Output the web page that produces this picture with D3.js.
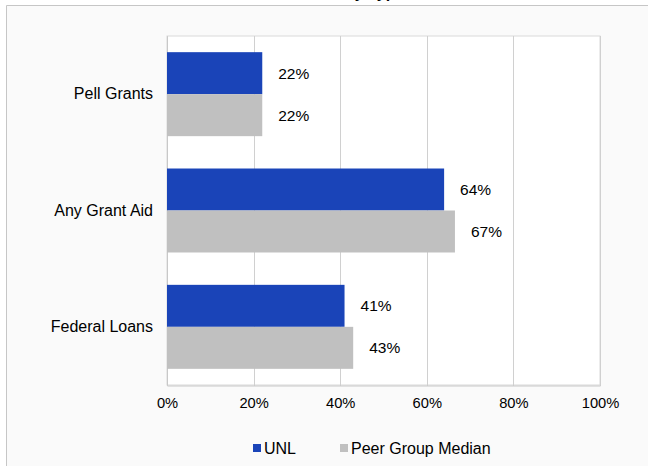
<!DOCTYPE html>
<html><head><meta charset="utf-8">
<script src="https://cdn.jsdelivr.net/npm/d3@7"></script>
<style>body{margin:0;background:#fff}svg{display:block}text{font-family:"Liberation Sans",Arial,sans-serif}</style>
</head><body><svg id="c" width="648" height="466"></svg>
<script>
const title = "Financial Aid by Type";
const categories = ["Pell Grants", "Any Grant Aid", "Federal Loans"];
const seriesNames = ["UNL", "Peer Group Median"];
const unlValues = [22, 64, 41];
const peerValues = [22, 66.5, 43];
const unlLabels = ["22%", "64%", "41%"];
const peerLabels = ["22%", "67%", "43%"];
const xTicks = [0, 20, 40, 60, 80, 100];
const colors = ["#1a44b8", "#c0c0c0"];

const FONT = '"Liberation Sans",Arial,sans-serif';
const svg = d3.select("#c");
const W = 648, H = 466;
const m = {left: 167, right: 600, top: 36, bottom: 385};

svg.append("rect").attr("x", 6).attr("y", 5).attr("width", W).attr("height", H).attr("fill", "#fafafa");
svg.append("path").attr("d", `M6.5,${H} V5.5 H${W}`).attr("fill", "none").attr("stroke", "#c6c6c6");

svg.append("text").attr("x", 323).attr("y", -2).attr("text-anchor", "middle")
  .attr("font-size", 16).attr("font-weight", "bold").attr("fill", "#000").text(title);

const x = d3.scaleLinear().domain([0, 100]).range([m.left, m.right]);
const y = d3.scaleBand().domain(categories).range([m.top, m.bottom]).paddingInner(0.278).paddingOuter(0.139);
const ys = d3.scaleBand().domain(seriesNames).range([0, y.bandwidth()]);

svg.append("rect").attr("x", m.left).attr("y", m.top).attr("width", m.right - m.left).attr("height", m.bottom - m.top)
  .attr("fill", "#fff").attr("stroke", "#d9d9d9");

svg.append("g").selectAll("line").data(xTicks).join("line")
  .attr("x1", d => Math.round(x(d)) + 0.5).attr("x2", d => Math.round(x(d)) + 0.5)
  .attr("y1", m.top).attr("y2", m.bottom + 1).attr("stroke", "#d0d0d0");

const xAxis = svg.append("g").attr("transform", `translate(0,${m.bottom + 0.5})`)
  .call(d3.axisBottom(x).tickValues(xTicks).tickFormat(d => d + "%").tickSize(0).tickPadding(12));
xAxis.select(".domain").attr("stroke", "#c8c8c8");
xAxis.selectAll("text").attr("font-size", 14.7).attr("fill", "#000").attr("font-family", FONT);

const yAxis = svg.append("g").attr("transform", `translate(${m.left},0)`)
  .call(d3.axisLeft(y).tickSize(0).tickPadding(14));
yAxis.select(".domain").attr("stroke", "#c8c8c8");
yAxis.selectAll("text").attr("font-size", 16).attr("fill", "#000").attr("font-family", FONT);

const series = [
  {name: seriesNames[0], values: unlValues, labels: unlLabels, color: colors[0]},
  {name: seriesNames[1], values: peerValues, labels: peerLabels, color: colors[1]}
];

series.forEach(s => {
  const g = svg.append("g");
  g.selectAll("rect").data(categories).join("rect")
    .attr("x", x(0)).attr("y", (c) => y(c) + ys(s.name))
    .attr("width", (c, i) => x(s.values[i]) - x(0)).attr("height", ys.bandwidth())
    .attr("fill", s.color);
  g.selectAll("text").data(categories).join("text")
    .attr("x", (c, i) => x(s.values[i]) + 16).attr("y", c => y(c) + ys(s.name) + ys.bandwidth() / 2)
    .attr("dy", "0.35em").attr("font-size", 15.5).attr("fill", "#000")
    .text((c, i) => s.labels[i]);
});

const legend = svg.append("g");
const legX = [253, 340];
series.forEach((s, i) => {
  legend.append("rect").attr("x", legX[i]).attr("y", 444).attr("width", 8).attr("height", 8).attr("fill", s.color);
  legend.append("text").attr("x", legX[i] + 11).attr("y", 453.5).attr("font-size", 16).attr("fill", "#000").text(s.name);
});
</script></body></html>
